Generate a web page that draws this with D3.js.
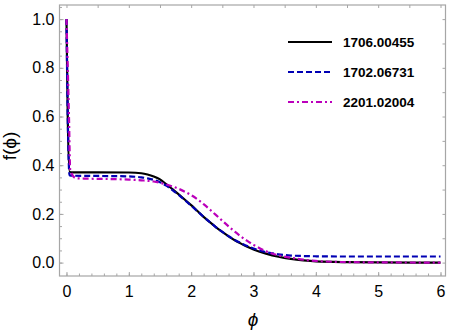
<!DOCTYPE html>
<html>
<head>
<meta charset="utf-8">
<script src="https://cdn.jsdelivr.net/npm/d3@7"></script>
<style>
  body { margin: 0; background: #fff; }
  svg { display: block; }
  text { font-family: "Liberation Sans", Arial, sans-serif; }
</style>
</head>
<body>
<div id="chart"></div>
<script>
// series
var labels = ["1706.00455", "1702.06731", "2201.02004"];

var xBlack = [0, 0.02, 0.05, 0.1, 0.5, 1.0, 1.2, 1.3, 1.4, 1.5, 1.6, 1.7, 1.8, 1.9, 2.0, 2.1, 2.2, 2.3, 2.4, 2.5, 2.6, 2.7, 2.8, 2.9, 3.0, 3.2, 3.4, 3.6, 3.8, 4.0, 4.5, 5, 6];
var yBlack = [1.0, 0.6, 0.372, 0.371, 0.371, 0.370, 0.367, 0.362, 0.354, 0.342, 0.322, 0.302, 0.280, 0.258, 0.236, 0.212, 0.188, 0.166, 0.145, 0.126, 0.108, 0.092, 0.078, 0.065, 0.054, 0.037, 0.024, 0.015, 0.009, 0.005, 0.002, 0.001, 0.0];

var xBlue = [0, 0.02, 0.05, 0.1, 0.5, 1.0, 1.2, 1.3, 1.4, 1.5, 1.6, 1.7, 1.8, 1.9, 2.0, 2.1, 2.2, 2.3, 2.4, 2.5, 2.6, 2.7, 2.8, 2.9, 3.0, 3.2, 3.4, 3.6, 3.8, 4.0, 4.5, 5, 6];
var yBlue = [1.0, 0.6, 0.358, 0.357, 0.356, 0.354, 0.350, 0.346, 0.340, 0.330, 0.316, 0.298, 0.278, 0.256, 0.234, 0.211, 0.188, 0.166, 0.145, 0.126, 0.109, 0.093, 0.080, 0.068, 0.058, 0.043, 0.034, 0.029, 0.027, 0.026, 0.025, 0.025, 0.025];

var xMagenta = [0, 0.04, 0.06, 0.15, 0.3, 0.5, 1.0, 1.2, 1.4, 1.5, 1.6, 1.7, 1.8, 1.9, 2.0, 2.1, 2.2, 2.3, 2.4, 2.5, 2.6, 2.7, 2.8, 2.9, 3.0, 3.2, 3.4, 3.6, 3.8, 4.0, 4.5, 5, 6];
var yMagenta = [1.0, 0.6, 0.38, 0.347, 0.345, 0.344, 0.341, 0.338, 0.333, 0.328, 0.321, 0.313, 0.303, 0.291, 0.277, 0.260, 0.240, 0.218, 0.195, 0.172, 0.149, 0.127, 0.107, 0.089, 0.073, 0.047, 0.030, 0.020, 0.012, 0.007, 0.002, 0.001, 0.0];

var xMajor = [0, 1, 2, 3, 4, 5, 6];
var yMajor = [0, 0.2, 0.4, 0.6, 0.8, 1.0];

var series = [
  { name: labels[0], xs: xBlack, ys: yBlack, color: "#000000", dash: null },
  { name: labels[1], xs: xBlue, ys: yBlue, color: "#0000b4", dash: "6,3" },
  { name: labels[2], xs: xMagenta, ys: yMagenta, color: "#bb00bb", dash: "6,3,2,3" }
];

var width = 454, height = 332;

var x = d3.scaleLinear().domain([-0.112, 6.08]).range([59.5, 445.5]);
var y = d3.scaleLinear().domain([-0.055, 1.058]).range([276, 5]);

var svg = d3.select("#chart").append("svg")
    .attr("width", width)
    .attr("height", height);

var frameColor = "#a6a6a6";

// bottom axis, labelled, ticks pointing inward
var gx = svg.append("g")
    .attr("transform", "translate(0," + y.range()[0] + ")")
    .call(d3.axisBottom(x).tickValues(xMajor).tickSize(-4).tickPadding(10)
        .tickFormat(d3.format("d")));
gx.append("g")
    .call(d3.axisBottom(x).tickValues(d3.range(-0.0, 6.01, 0.2)).tickSize(-2.5).tickFormat(""));

var gy = svg.append("g")
    .attr("transform", "translate(" + x.range()[0] + ",0)")
    .call(d3.axisLeft(y).tickValues(yMajor).tickSize(-4).tickPadding(5)
        .tickFormat(d3.format(".1f")));
gy.append("g")
    .call(d3.axisLeft(y).tickValues(d3.range(0, 1.051, 0.05)).tickSize(-2.5).tickFormat(""));

// top and right frame ticks without labels
svg.append("g")
    .attr("transform", "translate(0," + y.range()[1] + ")")
    .call(d3.axisTop(x).tickValues(d3.range(0, 6.01, 0.5)).tickSize(-3).tickFormat(""));
svg.append("g")
    .attr("transform", "translate(" + x.range()[1] + ",0)")
    .call(d3.axisRight(y).tickValues(d3.range(0, 1.051, 0.1)).tickSize(-3).tickFormat(""));

svg.selectAll(".domain").remove();
svg.selectAll(".tick line").attr("stroke", frameColor);
svg.selectAll(".tick text")
    .attr("fill", "#000")
    .style("font-size", "16px")
    .style("font-family", "'Liberation Sans', Arial, sans-serif");

svg.append("rect")
    .attr("x", x.range()[0])
    .attr("y", y.range()[1])
    .attr("width", x.range()[1] - x.range()[0])
    .attr("height", y.range()[0] - y.range()[1])
    .attr("fill", "none")
    .attr("stroke", frameColor)
    .attr("stroke-width", 1.2);

// curves
var line = d3.line()
    .x(function (d) { return x(d[0]); })
    .y(function (d) { return y(d[1]); })
    .curve(d3.curveMonotoneX);

svg.append("defs").append("clipPath").attr("id", "clip")
    .append("rect")
    .attr("x", x.range()[0]).attr("y", y.range()[1])
    .attr("width", x.range()[1] - x.range()[0])
    .attr("height", y.range()[0] - y.range()[1]);

svg.append("g").attr("clip-path", "url(#clip)")
    .selectAll("path")
    .data(series)
    .enter().append("path")
    .attr("d", function (s) {
        return line(s.xs.map(function (v, i) { return [v, s.ys[i]]; }));
    })
    .attr("fill", "none")
    .attr("stroke", function (s) { return s.color; })
    .attr("stroke-width", 2.2)
    .attr("stroke-dasharray", function (s) { return s.dash; });

// legend
var legend = svg.append("g");
var rows = legend.selectAll("g")
    .data(series)
    .enter().append("g")
    .attr("transform", function (s, i) { return "translate(288," + (42 + i * 30) + ")"; });
rows.append("line")
    .attr("x1", 0).attr("x2", 44)
    .attr("stroke", function (s) { return s.color; })
    .attr("stroke-width", 2.2)
    .attr("stroke-dasharray", function (s) { return s.dash; });
rows.append("text")
    .attr("x", 55)
    .attr("dy", "0.36em")
    .style("font-size", "13.5px")
    .style("font-weight", "bold")
    .text(function (s) { return s.name; });

// axis titles
svg.append("text")
    .attr("x", 253)
    .attr("y", 326)
    .attr("text-anchor", "middle")
    .style("font-size", "19px")
    .style("font-style", "italic")
    .text("\u03d5");

svg.append("text")
    .attr("transform", "translate(16,146) rotate(-90)")
    .attr("text-anchor", "middle")
    .style("font-size", "19px")
    .text("f(\u03d5)");
</script>
</body>
</html>
